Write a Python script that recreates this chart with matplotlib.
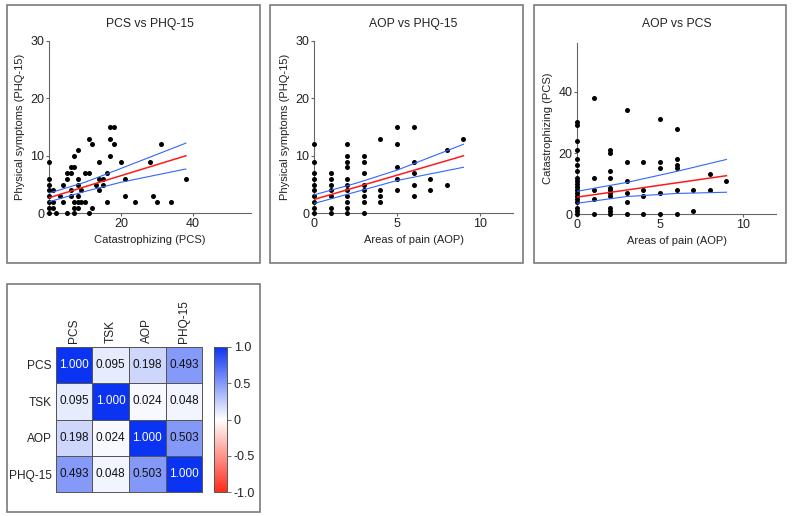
import numpy as np
import matplotlib
matplotlib.use('Agg')
import matplotlib.pyplot as plt
from matplotlib.colors import LinearSegmentedColormap
from matplotlib.patches import Rectangle

plt.rcParams['font.family'] = ['Liberation Sans', 'DejaVu Sans']

# PCS vs PHQ-15 (x = PCS, y = PHQ-15)
pcs_x = [0, 0, 0, 0, 0, 0, 0, 0, 1, 1, 1, 2, 3, 4, 4, 5, 5, 5, 6, 6, 6, 6, 7, 7,
         7, 7, 7, 8, 8, 8, 8, 8, 8, 9, 9, 10, 10, 11, 11, 11, 12, 12, 13, 14, 14,
         14, 15, 15, 16, 16, 17, 18, 17, 17, 18, 20, 21, 21, 24, 28, 29, 30, 31, 34, 38]
phq_a = [9, 6, 5, 4, 3, 2, 1, 0, 4, 2, 1, 0, 3, 5, 2, 7, 6, 0, 7, 4, 3, 8, 8, 10,
         2, 1, 0, 11, 6, 5, 3, 2, 1, 4, 2, 2, 7, 7, 13, 0, 12, 1, 5, 9, 4,
         6, 6, 5, 7, 2, 15, 15, 13, 10, 12, 9, 6, 3, 2, 9, 3, 2, 12, 2, 6]
# regression line and 95% band
fit_a_x = [0, 38]
fit_a_y = [2.7, 10.0]
band_a_x = [0, 10, 20, 38]
band_a_hi = [3.5, 5.4, 7.8, 12.2]
band_a_lo = [2.0, 3.8, 5.4, 7.7]

# AOP vs PHQ-15
aop_a = [0] * 10 + [1] * 7 + [2] * 11 + [3] * 8 + [4] * 4 + [5] * 5 + [6] * 5 + [7] * 2 + [8] * 2 + [9]
phq_b = [0, 1, 2, 3, 4, 5, 6, 7, 9, 12,
         0, 1, 3, 4, 5, 6, 7,
         0, 1, 2, 3, 4, 5, 6, 8, 9, 10, 12,
         0, 2, 3, 4, 5, 7, 9, 10,
         2, 3, 4, 13,
         4, 6, 8, 12, 15,
         3, 5, 7, 9, 15,
         4, 6,
         5, 11,
         13]
fit_b_x = [0, 9]
fit_b_y = [2.4, 10.0]
band_b_x = [0, 2.5, 5, 9]
band_b_hi = [3.2, 5.2, 7.5, 12.0]
band_b_lo = [1.7, 3.7, 5.7, 8.0]

# AOP vs PCS
aop_b = [0] * 19 + [1] * 5 + [2] * 11 + [3] * 6 + [4] * 4 + [5] * 5 + [6] * 6 + [7] * 2 + [8] * 2 + [9]
pcs_b = [0, 1, 2, 4, 5, 6, 7, 8, 9, 10, 11, 12, 14, 16, 18, 21, 24, 29, 30,
         0, 5, 8, 12, 38,
         0, 1, 2, 6, 7, 8, 8.5, 12, 14, 20, 21,
         0, 4, 7, 11, 17, 34,
         0, 6, 8, 17,
         0, 7, 15, 17, 31,
         0, 8, 15, 16, 18, 28,
         1, 8,
         8, 13,
         11]
fit_c_x = [0, 9]
fit_c_y = [5.6, 12.6]
band_c_x = [0, 3, 6, 9]
band_c_hi = [7.5, 10.4, 14.0, 17.9]
band_c_lo = [3.6, 5.8, 6.8, 7.2]

# correlation matrix
corr_labels = ['PCS', 'TSK', 'AOP', 'PHQ-15']
corr = np.array([[1.000, 0.095, 0.198, 0.493],
                 [0.095, 1.000, 0.024, 0.048],
                 [0.198, 0.024, 1.000, 0.503],
                 [0.493, 0.048, 0.503, 1.000]])

W, H = 793, 516
fig = plt.figure(figsize=(W / 100, H / 100), dpi=100)


def px_rect(l, t, r, b):
    # pixel box (from top-left) -> figure fraction rect
    return [l / W, 1 - b / H, (r - l) / W, (b - t) / H]


def frame(l, t, r, b):
    fig.patches.append(Rectangle((l / W, 1 - b / H), (r - l) / W, (b - t) / H,
                                 transform=fig.transFigure, fill=False,
                                 edgecolor='#7a7a7a', linewidth=1.2))


def scatter_fit(ax, x, y, fx, fy, bx, bhi, blo):
    ax.scatter(x, y, s=13, color='black', zorder=3, linewidths=0, clip_on=False)
    ax.plot(fx, fy, color='#ff1a1a', lw=1.1, zorder=4)
    ax.plot(bx, bhi, color='#3366ff', lw=0.8, zorder=4)
    ax.plot(bx, blo, color='#3366ff', lw=0.8, zorder=4)


def style(ax, title, xlabel, ylabel, xlim, ylim, xticks, yticks, tpad=10):
    ax.set_xlim(*xlim)
    ax.set_ylim(*ylim)
    ax.set_xticks(xticks)
    ax.set_yticks(yticks)
    for sp in ['top', 'right']:
        ax.spines[sp].set_visible(False)
    for sp in ['left', 'bottom']:
        ax.spines[sp].set_color('#666666')
        ax.spines[sp].set_linewidth(0.8)
    ax.tick_params(length=2.5, width=0.8, color='#666666', labelsize=9, pad=0.8,
                   labelcolor='#222222')
    ax.set_title(title, fontsize=8.7, pad=tpad, color='#222222')
    ax.set_xlabel(xlabel, fontsize=8, labelpad=4, color='#222222')
    ax.set_ylabel(ylabel, fontsize=8, labelpad=4, color='#222222')


frame(7, 5, 260, 262.5)
frame(270, 5, 522.7, 262.5)
frame(533.7, 5, 785.7, 262.5)
frame(7, 284.3, 260, 511.7)

ax1 = fig.add_axes(px_rect(49, 40.7, 250.7, 213.3))
scatter_fit(ax1, pcs_x, phq_a, fit_a_x, fit_a_y, band_a_x, band_a_hi, band_a_lo)
style(ax1, 'PCS vs PHQ-15', 'Catastrophizing (PCS)', 'Physical symptoms (PHQ-15)',
      (0, 56), (0, 30), [20, 40], [0, 10, 20, 30])

ax2 = fig.add_axes(px_rect(314, 40.7, 513.3, 213.3))
scatter_fit(ax2, aop_a, phq_b, fit_b_x, fit_b_y, band_b_x, band_b_hi, band_b_lo)
style(ax2, 'AOP vs PHQ-15', 'Areas of pain (AOP)', 'Physical symptoms (PHQ-15)',
      (0, 12), (0, 30), [0, 5, 10], [0, 10, 20, 30])

ax3 = fig.add_axes(px_rect(577, 42.7, 776.3, 214.3))
scatter_fit(ax3, aop_b, pcs_b, fit_c_x, fit_c_y, band_c_x, band_c_hi, band_c_lo)
style(ax3, 'AOP vs PCS', 'Areas of pain (AOP)', 'Catastrophizing (PCS)',
      (0, 12), (0, 56), [0, 5, 10], [0, 20, 40], tpad=11.5)

# heatmap
cmap = LinearSegmentedColormap.from_list('rwb', ['#ff2a1a', '#ffffff', '#0b33f2'])
axh = fig.add_axes(px_rect(55.7, 346.7, 202.3, 492.3))
mesh = axh.pcolormesh(corr, cmap=cmap, vmin=-1, vmax=1, edgecolors='#555555', linewidth=0.7)
axh.set_xlim(0, 4)
axh.set_ylim(4, 0)
axh.set_xticks(np.arange(4) + 0.5)
axh.set_yticks(np.arange(4) + 0.5)
axh.set_xticklabels(corr_labels, rotation=90, fontsize=8.6)
axh.set_yticklabels(corr_labels, fontsize=8.6)
axh.xaxis.tick_top()
axh.tick_params(length=0, pad=3, labelcolor='#222222')
for sp in axh.spines.values():
    sp.set_color('#555555')
    sp.set_linewidth(0.7)
for i in range(4):
    for j in range(4):
        v = corr[i, j]
        axh.text(j + 0.5, i + 0.5, f'{v:.3f}', ha='center', va='center', fontsize=8.5,
                 color='white' if v > 0.8 else '#111111')

cax = fig.add_axes(px_rect(214.3, 346.7, 226.7, 492.3))
cb = fig.colorbar(mesh, cax=cax, ticks=[-1, -0.5, 0, 0.5, 1])
cb.ax.set_yticklabels(['-1.0', '-0.5', '0', '0.5', '1.0'])
cb.ax.tick_params(labelsize=9, length=3, width=0.6, color='#555555', pad=2,
                  labelcolor='#222222')
cb.outline.set_edgecolor('#555555')
cb.outline.set_linewidth(0.7)

fig.savefig('out.png', dpi=100)
